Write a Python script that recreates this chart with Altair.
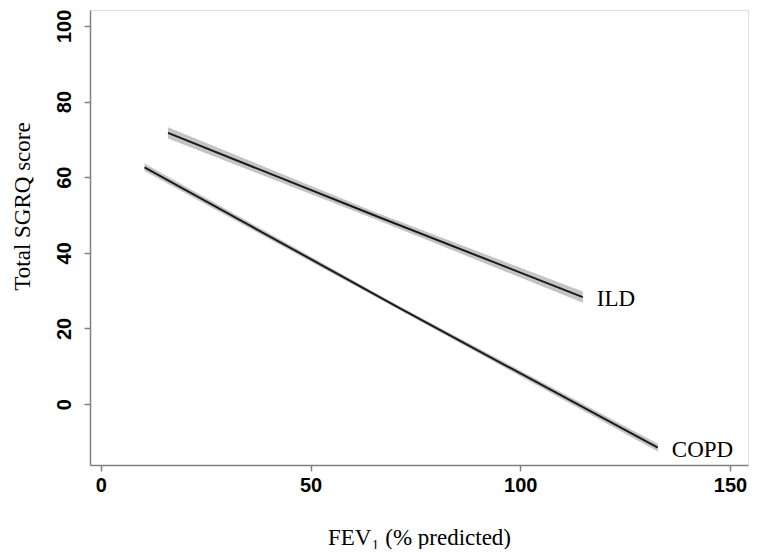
import altair as alt
import pandas as pd

# Fitted lines (FEV1 % predicted vs Total SGRQ score) with confidence bands
ild_x = [16.0, 65.0, 114.9]
ild_y = [71.7, 50.0, 28.3]
ild_ci = [1.5, 0.9, 1.5]

copd_x = [10.4, 71.0, 132.8]
copd_y = [62.6, 25.5, -11.5]
copd_ci = [1.0, 0.5, 1.0]

labels = ["ILD", "COPD"]
x_ticks = [0, 50, 100, 150]
y_ticks = [0, 20, 40, 60, 80, 100]

rows = []
for g, xs, ys, cs in [("ILD", ild_x, ild_y, ild_ci), ("COPD", copd_x, copd_y, copd_ci)]:
    for xv, yv, cv in zip(xs, ys, cs):
        rows.append({"group": g, "x": xv, "y": yv, "lo": yv - cv, "hi": yv + cv})
df = pd.DataFrame(rows)

lab_df = pd.DataFrame({
    "group": labels,
    "x": [ild_x[-1], copd_x[-1]],
    "y": [ild_y[-1], copd_y[-1]],
})

xscale = alt.Scale(domain=[-2.6, 154.3], nice=False, zero=False)
yscale = alt.Scale(domain=[-16.1, 104.2], nice=False, zero=False)

xaxis = alt.Axis(
    values=x_ticks, grid=False, domainColor="#808080", domainWidth=1.5,
    tickColor="#808080", tickSize=6, tickWidth=1.5,
    labelFont="Liberation Sans", labelFontWeight="bold", labelFontSize=20,
    labelColor="#000000", labelPadding=4,
    title="FEV₁ (% predicted)", titleFont="Liberation Serif", titleFontSize=23,
    titleFontWeight="normal", titleColor="#000000", titleBaseline="alphabetic",
    titleY=79, titleX=329, titleAnchor="middle",
)
yaxis = alt.Axis(
    values=y_ticks, grid=False, domainColor="#808080", domainWidth=1.5,
    tickColor="#808080", tickSize=6, tickWidth=1.5,
    labelFont="Liberation Sans", labelFontWeight="bold", labelFontSize=20,
    labelColor="#000000", labelAngle=270, labelAlign="center",
    labelBaseline="bottom", labelPadding=10,
    title="Total SGRQ score", titleFont="Liberation Serif", titleFontSize=23,
    titleFontWeight="normal", titleColor="#000000", titleAngle=270,
    titleAlign="center", titleBaseline="alphabetic", titleX=-61, titleY=196,
)

base = alt.Chart(df)

band = base.mark_area(color="#c4c4c4", opacity=1).encode(
    x=alt.X("x:Q", scale=xscale, axis=xaxis),
    y=alt.Y("lo:Q", scale=yscale, axis=yaxis),
    y2="hi:Q",
    detail="group:N",
)

line = base.mark_line(color="#1a1a1a", strokeWidth=2).encode(
    x=alt.X("x:Q", scale=xscale),
    y=alt.Y("y:Q", scale=yscale),
    detail="group:N",
)

text = alt.Chart(lab_df).mark_text(
    align="left", baseline="middle", dx=14, dy=2,
    font="Liberation Serif", fontSize=23, color="#000000",
).encode(
    x=alt.X("x:Q", scale=xscale),
    y=alt.Y("y:Q", scale=yscale),
    text="group:N",
)

chart = alt.layer(band, line, text).properties(
    width=658, height=455,
    autosize=alt.AutoSizeParams(type="none"),
    padding={"left": 82, "top": 2, "right": 1, "bottom": 84},
).configure_view(stroke=None).configure(background="#ffffff")

chart.save("out.html", embed_options={"renderer": "svg", "actions": False})
